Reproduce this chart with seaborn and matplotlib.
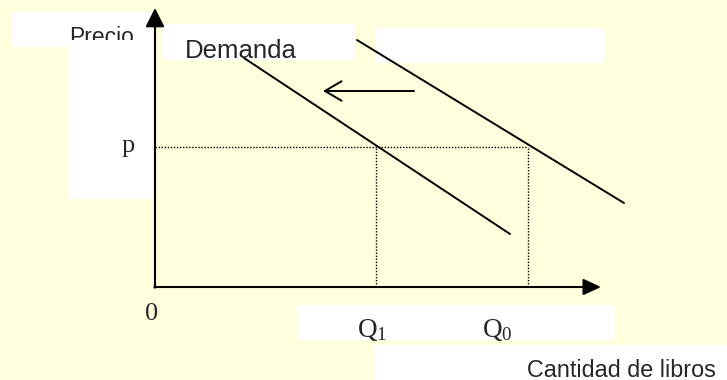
import pandas as pd
import matplotlib
matplotlib.use("Agg")
import matplotlib.pyplot as plt
import matplotlib.transforms as mtransforms
from matplotlib.patches import Rectangle
import seaborn as sns

# Valores del diagrama (unidades arbitrarias, origen en el cruce de ejes)
PRECIO_P = 14.0
Q1 = 22.1
Q0 = 37.3

# Demanda original (derecha) y nueva demanda (izquierda)
demanda0_q = [20.2, 46.9]
demanda0_p = [24.7, 8.4]
demanda1_q = [8.9, 35.5]
demanda1_p = [22.9, 5.3]

# Flecha del desplazamiento
flecha_q = [25.9, 16.8]
flecha_p = 19.6

# Largo de los ejes
eje_x_max = 44.6
eje_y_max = 27.9

FONDO = "#FFFFDD"
W, H = 727, 380

sns.set_style("white")
plt.rcParams.update({
    "font.family": ["Liberation Sans", "DejaVu Sans"],
    "mathtext.fontset": "custom",
    "mathtext.rm": "Liberation Serif",
    "mathtext.it": "Liberation Serif:italic",
})

fig = plt.figure(figsize=(W / 100, H / 100), dpi=100, facecolor=FONDO)
ax = fig.add_axes([0, 0, 1, 1])
ax.set_facecolor(FONDO)
ax.set_xlim(-155 / 10, (W - 155) / 10)
ax.set_ylim((287 - H) / 10, 287 / 10)
ax.axis("off")

# transform en pixeles de la imagen (origen arriba a la izquierda)
px = mtransforms.Affine2D().scale(1 / W, -1 / H).translate(0, 1) + fig.transFigure

# ── recuadros blancos ───────────────────────────────────────────────
cajas = [
    (12, 12, 153, 47),
    (69, 47, 153, 199),
    (163, 24, 355, 60),
    (376, 28, 605, 63),
    (298, 305, 615, 340),
    (375, 345, 727, 380),
]
for x0, y0, x1, y1 in cajas:
    ax.add_patch(Rectangle((x0, y0), x1 - x0, y1 - y0, transform=px,
                           facecolor="white", edgecolor="none", zorder=1))

# ── curvas de demanda ───────────────────────────────────────────────
df = pd.DataFrame({
    "cantidad": demanda0_q + demanda1_q,
    "precio": demanda0_p + demanda1_p,
    "curva": ["D0"] * 2 + ["D1"] * 2,
})
sns.lineplot(data=df, x="cantidad", y="precio", hue="curva",
             palette=["black", "black"], linewidth=1.4, legend=False,
             ax=ax, zorder=3)

# líneas punteadas de equilibrio
punteo = dict(color="black", linewidth=1.0, linestyle=(0, (1, 1.2)), zorder=2)
ax.plot([0, Q0], [PRECIO_P, PRECIO_P], **punteo)
ax.plot([Q1, Q1], [0, PRECIO_P], **punteo)
ax.plot([Q0, Q0], [0, PRECIO_P], **punteo)

# ── ejes con flecha ─────────────────────────────────────────────────
ax.annotate("", xy=(0, eje_y_max), xytext=(0, -0.07),
            arrowprops=dict(arrowstyle="-|>,head_length=1.15,head_width=0.58",
                            color="black", lw=1.5, shrinkA=0, shrinkB=0,
                            mutation_scale=10), zorder=4)
ax.annotate("", xy=(eje_x_max, 0), xytext=(-0.07, 0),
            arrowprops=dict(arrowstyle="-|>,head_length=1.08,head_width=0.5",
                            color="black", lw=1.5, shrinkA=0, shrinkB=0,
                            mutation_scale=10), zorder=4)

# flecha de desplazamiento
ax.annotate("", xy=(flecha_q[1], flecha_p), xytext=(flecha_q[0], flecha_p),
            arrowprops=dict(arrowstyle="->,head_length=1.2,head_width=0.7",
                            color="black", lw=1.4, shrinkA=0, shrinkB=0,
                            mutation_scale=10), zorder=4)

# ── textos ──────────────────────────────────────────────────────────
t = ax.text(69, 44, "Precio", transform=px, fontsize=16.5,
            ha="left", va="baseline", zorder=5)
t.set_clip_box(mtransforms.TransformedBbox(
    mtransforms.Bbox.from_extents(0, 1 - 40 / H, 200 / W, 1 - 12 / H),
    fig.transFigure))
t.set_clip_on(True)

ax.text(185, 58, "Demanda", transform=px, fontsize=18.5,
        ha="left", va="baseline", zorder=5)
ax.text(527, 377, "Cantidad de libros", transform=px, fontsize=16.8,
        ha="left", va="baseline", zorder=5)

serif = ["Liberation Serif", "DejaVu Serif"]
ax.text(128, 152, "p", transform=px, fontsize=19, family=serif,
        ha="center", va="baseline", zorder=5)
ax.text(152, 320, "0", transform=px, fontsize=19, family=serif,
        ha="center", va="baseline", zorder=5)
ax.text(357, 337, r"$\mathrm{Q}_{1}$", transform=px, fontsize=19.5,
        ha="left", va="baseline", zorder=5)
ax.text(482, 337, r"$\mathrm{Q}_{0}$", transform=px, fontsize=19.5,
        ha="left", va="baseline", zorder=5)

fig.savefig("out.png", dpi=100, facecolor=FONDO)
